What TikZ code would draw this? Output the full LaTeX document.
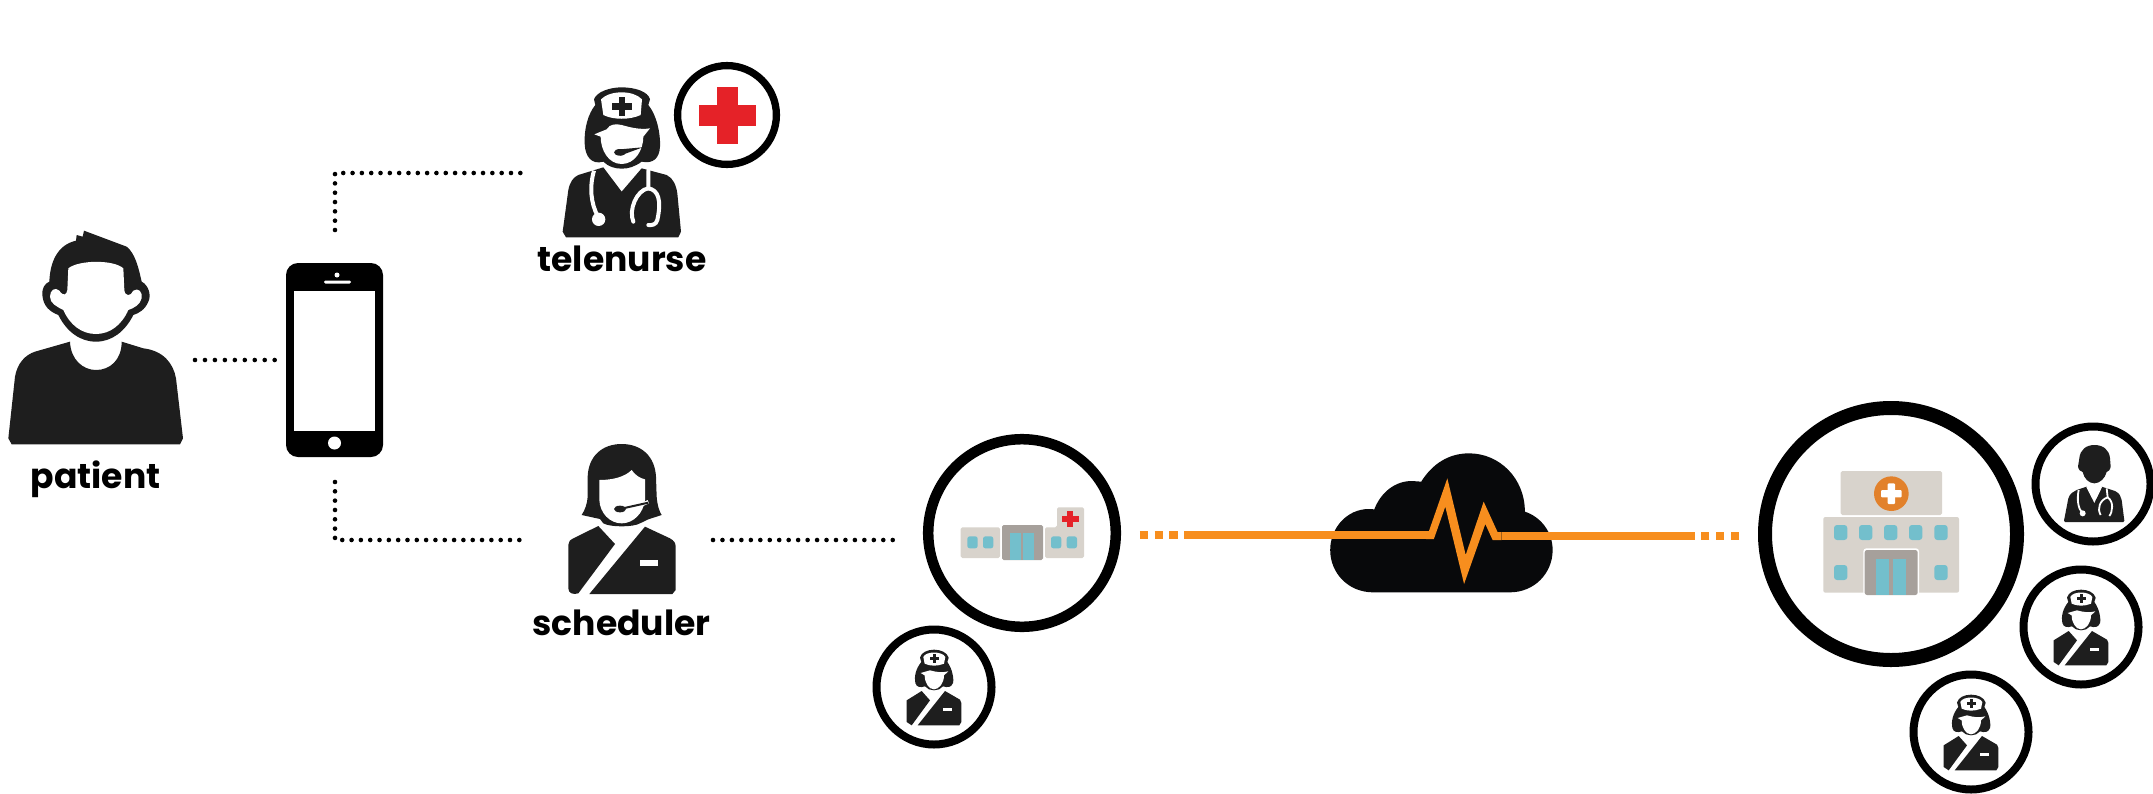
\documentclass[tikz,border=0pt]{standalone}
\usepackage{fontspec}
\usepackage{tikz}
\usepackage{xcolor}
\usetikzlibrary{positioning}
\setmainfont{Poppins}
\definecolor{iconblack}{HTML}{1e1e1e}
\definecolor{cloudblack}{HTML}{08090b}
\definecolor{pulseorange}{HTML}{f78e1e}
\definecolor{crossred}{HTML}{e52228}
\definecolor{wallgrey}{HTML}{d8d3cc}
\definecolor{doorgrey}{HTML}{a6a09b}
\definecolor{glassteal}{HTML}{73bfcc}
\definecolor{badgeorange}{HTML}{e2812b}

\tikzset{
    patienticon/.pic={
        \fill[iconblack] (25,715) -- (45,530) .. controls (52,490) and (75,465) .. (105,455) -- (210,425) .. controls (212,480) and (250,510) .. (288,510) .. controls (330,510) and (365,480) .. (365,425) -- (430,445) .. controls (490,452) and (520,490) .. (528,535) -- (549,715) -- (540,733) -- (35,733) -- cycle;
        \fill[iconblack] (252,92) -- (380,140) .. controls (405,160) and (415,200) .. (425,245) .. controls (445,255) and (455,285) .. (445,305) .. controls (435,330) and (415,340) .. (400,345) .. controls (375,395) and (335,425) .. (288,425) .. controls (240,425) and (200,395) .. (175,345) .. controls (150,335) and (130,320) .. (127,285) .. controls (125,265) and (135,250) .. (148,245) .. controls (150,190) and (170,135) .. (228,122) -- (230,105) -- (248,110) -- cycle;
        \fill[white] (205,205) .. controls (235,180) and (340,178) .. (370,205) -- (373,270) .. controls (375,290) and (392,290) .. (400,272) .. controls (415,262) and (428,275) .. (425,295) .. controls (420,315) and (400,325) .. (385,330) .. controls (365,375) and (330,402) .. (288,402) .. controls (245,402) and (210,375) .. (190,330) .. controls (170,320) and (150,310) .. (150,290) .. controls (150,270) and (165,260) .. (178,272) .. controls (190,290) and (200,285) .. (202,270) -- cycle;
    },
    telenurseicon/.pic={
        \fill[iconblack] (728,575) -- (745,450) .. controls (750,425) and (760,412) .. (775,405) -- (850,382) -- (905,455) -- (965,385) -- (1040,405) .. controls (1060,415) and (1068,435) .. (1072,460) -- (1083,575) -- (1075,592) -- (738,592) -- cycle;
        \draw[white,line width=2pt] (822,392) .. controls (808,440) and (812,490) .. (834,530);
        \fill[white] (836,538) circle (20);
        \draw[white,line width=2pt,line cap=round] (985,392) -- (985,445) .. controls (950,450) and (925,510) .. (940,545);
        \draw[white,line width=2pt,line cap=round] (985,445) .. controls (1015,450) and (1025,480) .. (1012,540) .. controls (1008,555) and (995,556) .. (985,555);
        \fill[iconblack] (822,178) .. controls (830,155) and (870,142) .. (905,142) .. controls (945,142) and (985,155) .. (990,178) -- (985,195) .. controls (1010,225) and (1022,280) .. (1020,320) .. controls (1018,355) and (1000,372) .. (965,365) .. controls (945,380) and (925,386) .. (905,386) .. controls (885,386) and (865,380) .. (850,365) .. controls (815,375) and (795,350) .. (794,310) .. controls (792,265) and (805,220) .. (826,195) -- cycle;
        \fill[white] (843,178) .. controls (870,150) and (940,150) .. (966,178) -- (962,225) .. controls (930,240) and (880,240) .. (850,225) -- cycle;
        \fill[iconblack] (896,170) rectangle (916,228);
        \fill[iconblack] (877,189) rectangle (935,209);
        \fill[white] (823,283) -- (860,268) .. controls (870,250) and (890,252) .. (905,255) .. controls (930,262) and (960,270) .. (990,265) -- (970,290) .. controls (970,330) and (945,372) .. (905,372) .. controls (865,372) and (842,330) .. (842,290) -- cycle;
        \fill[iconblack] (900,337) ellipse (18 and 10);
        \fill[iconblack] (900,328) -- (968,322) -- (900,347) -- cycle;
    },
    schedulericon/.pic={
        \fill[iconblack] (905,72) .. controls (965,72) and (1005,110) .. (1008,170) -- (1010,230) .. controls (1012,255) and (1018,275) .. (1025,285) -- (985,298) -- (960,310) .. controls (940,322) and (870,322) .. (850,310) -- (840,297) -- (785,285) .. controls (795,270) and (802,250) .. (803,230) -- (803,170) .. controls (805,110) and (845,72) .. (905,72) -- cycle;
        \fill[white] (838,180) .. controls (880,180) and (915,170) .. (935,150) .. controls (945,165) and (960,175) .. (975,178) -- (975,240) .. controls (970,280) and (940,310) .. (905,310) .. controls (870,310) and (840,280) .. (838,240) -- cycle;
        \draw[white,line width=1.8pt] (910,280) -- (985,245);
        \draw[iconblack,line width=1pt] (900,267) -- (985,248);
        \fill[iconblack] (900,267) ellipse (18 and 10);
        \fill[iconblack] (835,318) -- (885,372) -- (775,520) .. controls (760,525) and (745,520) .. (745,505) -- (745,375) .. controls (745,365) and (750,360) .. (760,355) -- cycle;
        \fill[iconblack] (975,320) -- (1050,355) .. controls (1062,362) and (1067,368) .. (1067,380) -- (1067,510) -- (1057,522) -- (808,522) -- cycle;
        \fill[white] (959,420) rectangle (1014,438);
    },
    minicapicon/.pic={
        \fill[iconblack] (-37,12) -- (-12,40) -- (-67,115) -- (-82,105) -- (-82,40) -- cycle;
        \fill[iconblack] (33,12) -- (78,38) -- (82,48) -- (82,105) -- (76,115) -- (-49,115) -- cycle;
        \fill[white] (27,63) rectangle (55,73);
        \fill[iconblack] (-42,-88) .. controls (-35,-120) and (35,-120) .. (44,-88) -- (40,-75) .. controls (55,-55) and (60,-25) .. (57,-12) .. controls (52,2) and (40,2) .. (27,-2) .. controls (15,14) and (-15,14) .. (-27,-2) .. controls (-40,2) and (-52,2) .. (-56,-12) .. controls (-60,-30) and (-55,-55) .. (-38,-75) -- cycle;
        \fill[white] (-32,-90) .. controls (-25,-108) and (25,-108) .. (34,-90) -- (30,-70) .. controls (10,-62) and (-10,-62) .. (-28,-70) -- cycle;
        \fill[iconblack] (-3,-99) rectangle (7,-73);
        \fill[iconblack] (-11,-91) rectangle (15,-81);
        \fill[white] (-40,-42) -- (-12,-50) .. controls (5,-45) and (25,-42) .. (43,-47) -- (30,-35) .. controls (30,-12) and (15,7) .. (0,7) .. controls (-15,7) and (-28,-12) .. (-28,-35) -- cycle;
    },
    doctoricon/.pic={
        \fill[iconblack] (972,392) -- (985,325) .. controls (990,310) and (1000,305) .. (1010,300) -- (1040,290) -- (1063,340) -- (1085,290) -- (1125,303) .. controls (1140,310) and (1142,320) .. (1145,330) -- (1153,392) -- (1150,396) -- (975,396) -- cycle;
        \fill[iconblack] (1063,165) .. controls (1090,165) and (1108,180) .. (1110,205) -- (1112,230) .. controls (1110,240) and (1105,245) .. (1100,246) .. controls (1095,265) and (1080,280) .. (1063,280) .. controls (1046,280) and (1032,265) .. (1028,246) .. controls (1022,245) and (1016,240) .. (1014,230) -- (1018,205) .. controls (1020,180) and (1038,165) .. (1063,165) -- cycle;
        \draw[white,line width=.9pt] (1016,300) .. controls (1010,330) and (1015,355) .. (1026,368);
        \fill[white] (1028,370) circle (9);
        \draw[white,line width=.9pt] (1100,295) -- (1103,322) .. controls (1080,330) and (1070,355) .. (1082,375);
        \draw[white,line width=.9pt] (1103,322) .. controls (1122,335) and (1118,365) .. (1108,378);
        \draw[white,line width=.5pt] (1040,290) -- (1058,325);
        \draw[white,line width=.5pt] (1085,290) -- (1068,325);
    },
    clinicicon/.pic={
        \fill[wallgrey,rounded corners=.8pt] (302,322) rectangle (420,414);
        \fill[wallgrey,rounded corners=.8pt] (555,414) -- (555,322) -- (591,322) -- (591,262) -- (672,262) -- (672,414) -- cycle;
        \fill[doorgrey,rounded corners=.8pt] (426,315) rectangle (549,420);
        \foreach \winx in {322,369,573,620}
            \fill[glassteal,rounded corners=1.2pt] (\winx,349) rectangle ++(31,36);
        \fill[glassteal] (450,339) rectangle (483,420);
        \fill[glassteal] (490,339) rectangle (523,420);
        \fill[crossred] (622,272) rectangle (640,322);
        \fill[crossred] (606,288) rectangle (656,306);
    },
    hospitalicon/.pic={
        \fill[wallgrey,rounded corners=.8pt] (302,243) rectangle (606,375);
        \fill[badgeorange] (454,311) circle (52);
        \fill[white,rounded corners=.5pt] (443,280) rectangle (465,342);
        \fill[white,rounded corners=.5pt] (423,300) rectangle (485,322);
        \fill[wallgrey,rounded corners=1pt] (250,381) rectangle (657,608);
        \foreach \winx in {282,357,432,507,583}
            \fill[glassteal,rounded corners=1.5pt] (\winx,405) rectangle ++(40,45);
        \foreach \winx in {282,583}
            \fill[glassteal,rounded corners=1.5pt] (\winx,525) rectangle ++(40,45);
        \fill[white,rounded corners=1.5pt] (370,475) rectangle (537,618);
        \fill[doorgrey,rounded corners=1.2pt] (374,480) rectangle (533,615);
        \fill[glassteal] (408,507) rectangle (448,615);
        \fill[glassteal] (459,507) rectangle (499,615);
    }
}

\begin{document}
\begin{tikzpicture}[x=.5pt,y=-.5pt,
        iconbox/.style={
        rectangle,
        inner sep=0pt,
        outer sep=0pt},
        ring/.style={
        draw=black,
        fill=white,
        circle,
        inner sep=0pt,
        outer sep=0pt},
        tag/.style={
        inner sep=0pt,
        text=black,
        anchor=base,
        font=\bfseries\fontsize{17.3}{20}\selectfont},
        dotline/.style={
        draw=black,
        line width=2.3pt,
        line cap=round,
        dash pattern=on 0pt off #1},
        dotline/.default=4.66pt,
        pulseline/.style={
        draw=pulseorange,
        line width=4.3pt,
        dash pattern=on 4.1pt off 3.3pt on 4.1pt off 3.3pt on 4.1pt off 3.3pt on 800pt},
        cloudframe/.style={
        xshift=560pt,
        yshift=-215pt,
        xscale=1/2.45,
        yscale=1/3}]

        \useasboundingbox (0,0) rectangle (2153,793);

        % left side
        \node[iconbox, minimum width=87.5pt, minimum height=106.5pt] (patient) at (95.5,337.5) {};
        \pic[scale=1/3] at (0,200) {patienticon};
        \node[tag, below=22pt of patient, anchor=base] (patientlabel) {patient};

        \node[iconbox, fill=black, rounded corners=6pt, minimum width=48.5pt, minimum height=97pt] (phone) at (334.5,360) {};
        \node[iconbox, fill=white, minimum width=40.5pt, minimum height=70pt] (screen) at (334.5,361) {};
        \node[circle, fill=white, inner sep=0pt, minimum size=6.5pt] (homekey) at (334.5,443) {};
        \node[circle, fill=white, inner sep=0pt, minimum size=2.5pt] (lens) at (337,275) {};
        \node[iconbox, fill=white, rounded corners=.7pt, minimum width=13.5pt, minimum height=1.5pt] (speaker) at (337.5,282) {};

        % nurse and scheduler
        \node[iconbox, minimum width=59pt, minimum height=75pt] (telenurse) at (622,162) {};
        \pic[scale=1/3] at (320,40) {telenurseicon};
        \node[tag, below=17pt of telenurse, anchor=base] (telenurselabel) {telenurse};
        \node[ring, line width=3.65pt, minimum size=49.4pt] (redring) at (727,115) {};
        \node[iconbox, fill=crossred, minimum width=10.2pt, minimum height=28.5pt] (crossv) at (727.5,115.5) {};
        \node[iconbox, fill=crossred, minimum width=28.5pt, minimum height=10.2pt] (crossh) at (727.5,115.5) {};

        \node[iconbox, minimum width=54pt, minimum height=75pt] (scheduler) at (621.5,519) {};
        \pic[scale=1/3] at (320,420) {schedulericon};
        \node[tag, below=20.5pt of scheduler, anchor=base] (schedulerlabel) {scheduler};

        % clinic
        \node[ring, line width=5.25pt, minimum size=93.8pt] (clinic) at (1022,533) {};
        \pic[scale=1/3] at (860,420) {clinicicon};
        \node[ring, line width=4pt, minimum size=57.5pt] (nursea) at (934,687) {};
        \pic[scale=1/3] at (nursea) {minicapicon};

        % cloud
        \fill[cloudblack, cloudframe] (620,487) .. controls (560,487) and (515,430) .. (515,360) .. controls (515,295) and (555,237) .. (610,237) -- (623,238) .. controls (640,185) and (675,153) .. (715,153) -- (738,155) .. controls (765,102) and (805,70) .. (855,70) .. controls (930,70) and (992,145) .. (992,245) .. controls (1030,260) and (1060,305) .. (1060,360) .. controls (1060,430) and (1015,487) .. (955,487) -- cycle;
        \coordinate (pulsein) at (1426,535);
        \coordinate (pulseout) at (1502,536);
        \fill[pulseorange, cloudframe] (750,303) -- (757,303) -- (802,145) -- (847,375) -- (891,215) -- (925,306) -- (935,306) -- (935,330) -- (913,330) -- (895,282) -- (843,462) -- (797,230) -- (769,327) -- (750,327) -- cycle;

        % hospital
        \node[ring, line width=7pt, minimum size=126pt] (hospital) at (1891,534) {};
        \pic[scale=1/3] at (1740,390) {hospitalicon};
        \node[ring, line width=4pt, minimum size=57.5pt] (doctor) at (2093,484) {};
        \pic[scale=1/3] at (1740,390) {doctoricon};
        \node[ring, line width=4pt, minimum size=57.5pt] (nurseb) at (2081,627) {};
        \pic[scale=1/3] at (nurseb) {minicapicon};
        \node[ring, line width=4pt, minimum size=57.5pt] (nursec) at (1971,732) {};
        \pic[scale=1/3] at (nursec) {minicapicon};

        % connectors
        \coordinate (phoneup) at (335,230);
        \coordinate (phonedown) at (335,482);
        \coordinate (nursein) at (522,173);
        \coordinate (schedin) at (522,540);
        \coordinate (schedout) at (713,540);
        \coordinate (clinicin) at (893,540);
        \draw[dotline=4.98pt] (patient.east |- phone.west) ++(12,0) -- ++(80.5,0) coordinate (phonein);
        \draw[dotline] (phoneup) |- (nursein);
        \draw[dotline] (phonedown) |- (schedin);
        \draw[dotline=4.73pt] (schedout) -- (clinicin);
        \draw[pulseline] (clinic.east |- pulsein) ++(24,0) -- (pulsein);
        \draw[pulseline] (hospital.west |- pulseout) ++(-26,0) -- (pulseout);
	\end{tikzpicture}
\end{document}
